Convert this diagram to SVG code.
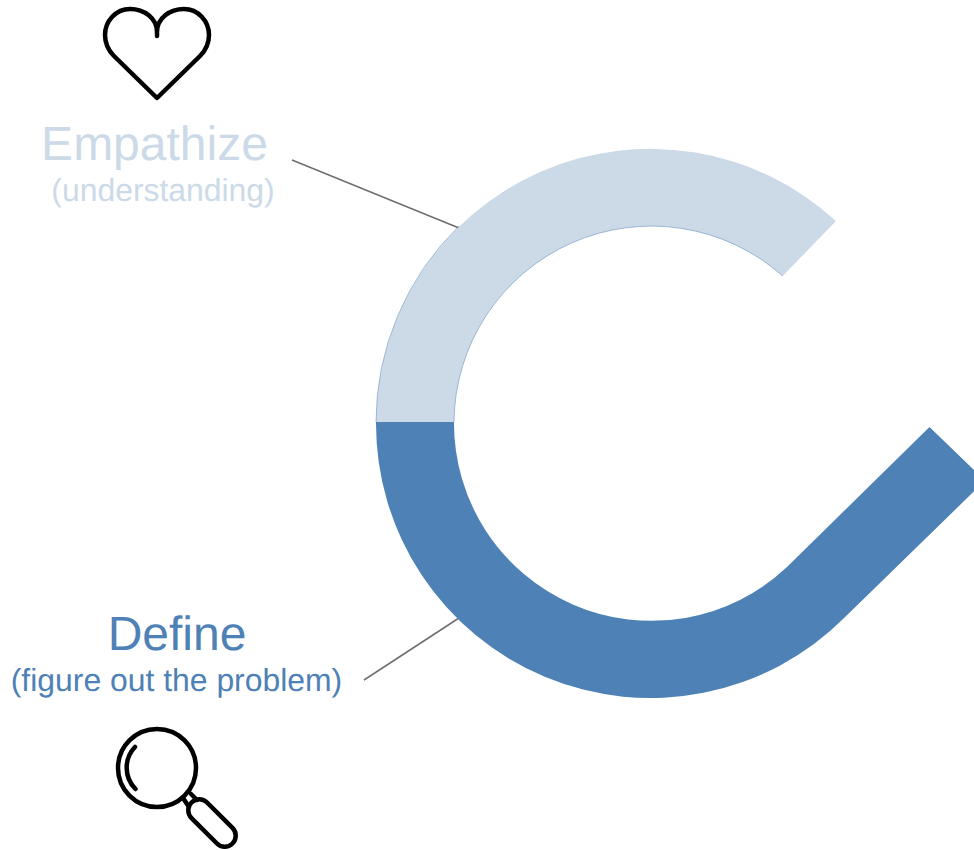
<svg xmlns="http://www.w3.org/2000/svg" width="974" height="850" viewBox="0 0 974 850">
<style>
text{font-family:"Liberation Sans",Arial,sans-serif;text-anchor:middle;text-rendering:geometricPrecision}
.big{font-size:48px}.small{font-size:31.9px}
.light{fill:#ccdae8}.dark{fill:#4e81b5}
.icon{fill:none;stroke:#000;stroke-width:4.5;stroke-linecap:round;stroke-linejoin:round}
.lead{stroke:#6e6e6e;stroke-width:1.5;fill:none}
.hair{fill:none;stroke:#4e81b5;stroke-width:0.5}
</style>
<rect width="974" height="850" fill="#fff"/>
<g id="connectors">
<path class="lead" d="M292 160L459 228"/>
<path class="lead" d="M364 680L459 618"/>
</g>
<g id="band-empathize">
<path class="light" d="M376 422A274.500 274.500 0 0 1 836 221L782.700 276A197.500 197.500 0 0 0 454 422Z"/>
<path class="hair" d="M376 422A274.500 274.500 0 0 1 459 226"/>
<path class="hair" d="M782.700 276A197.500 197.500 0 0 0 454 422"/>
</g>
<g id="band-define">
<path class="dark" d="M376 422A274.500 274.500 0 0 0 844.600 617.600L985 480.600L929.500 427L787 567A197.500 197.500 0 0 1 454 422Z"/>
</g>
<g id="node-empathize">
<path class="icon" d="M157 36V32C157 18 170 9 184 9C198 9 209 21 209 35C209 43 206 50 200 56L157 98L114 56C108 50 105 43 105 35C105 21 116 9 130 9C144 9 157 18 157 32"/>
<text class="big light" x="154.500" y="160">Empathize</text>
<text class="small light" x="163" y="201">(understanding)</text>
</g>
<g id="node-define">
<text class="big dark" x="177" y="650">Define</text>
<text class="small dark" x="176.500" y="691">(figure out the problem)</text>
<circle class="icon" cx="157" cy="768" r="39"/>
<path class="icon" d="M135 747A30 30 0 0 0 135.500 789"/>
<path class="icon" d="M183 798L189 807M191 794L197 800"/>
<rect class="icon" x="183" y="812" width="58" height="22" rx="11" transform="rotate(45 212 823)"/>
</g>
</svg>
